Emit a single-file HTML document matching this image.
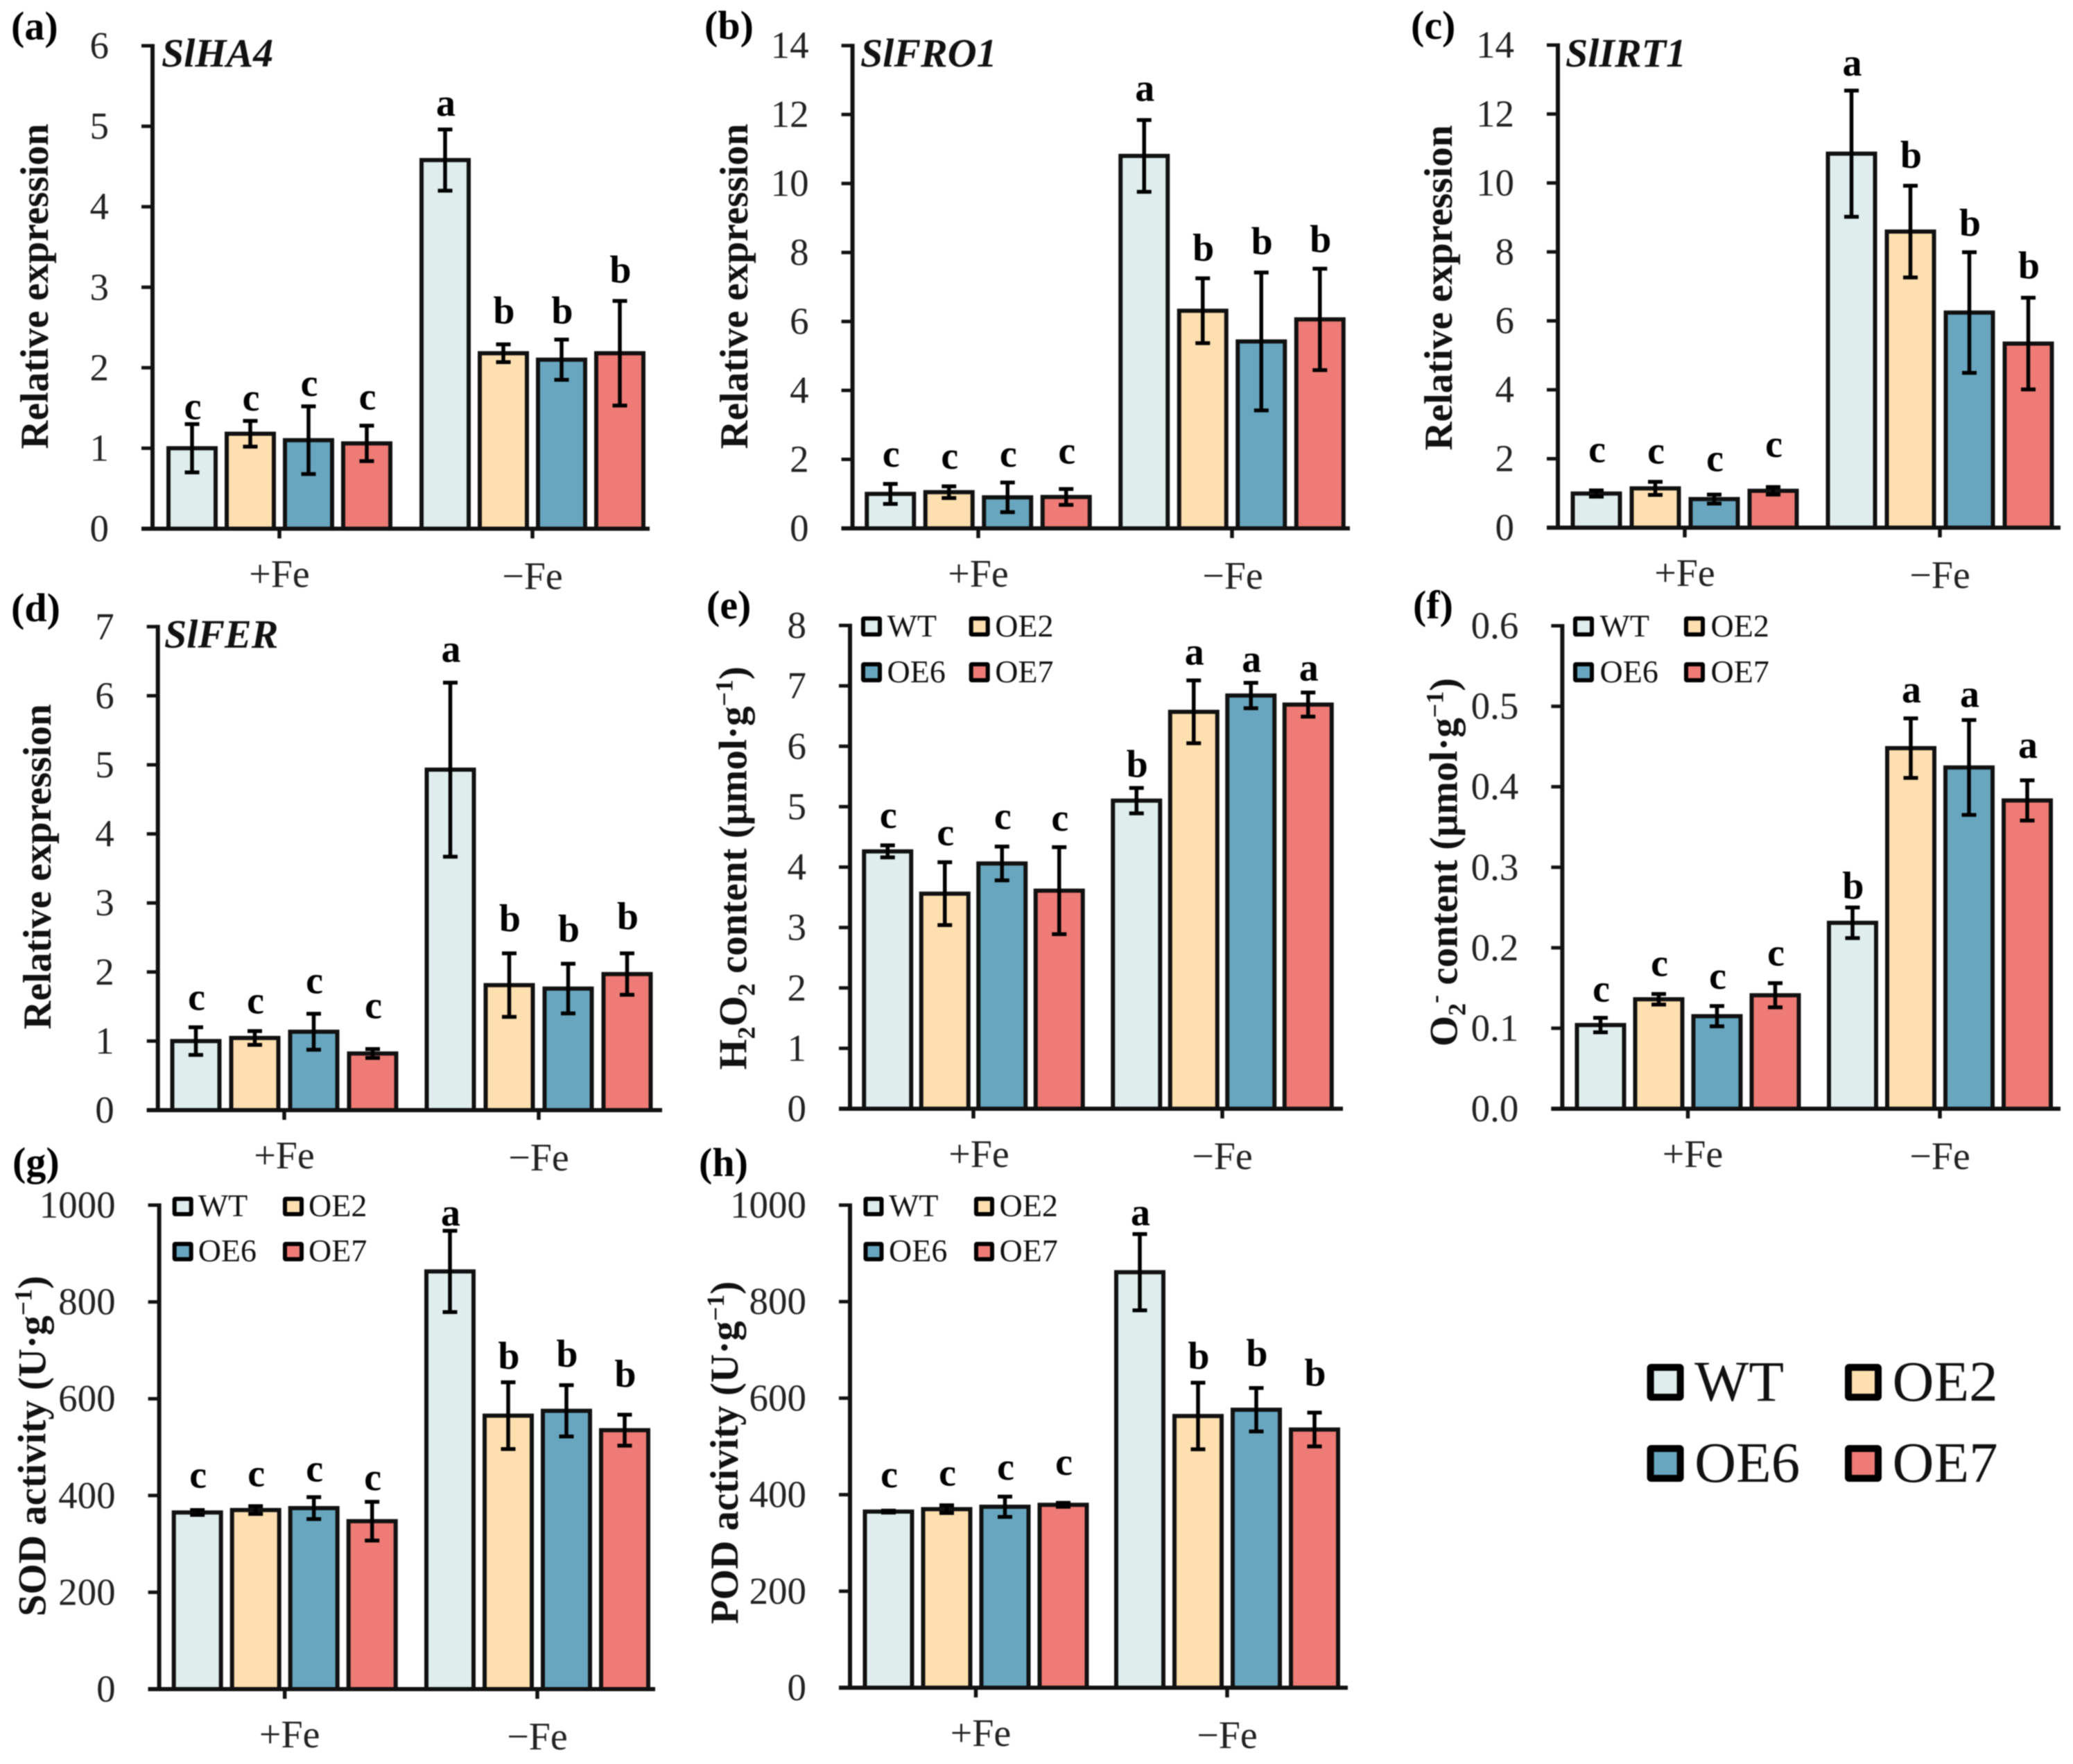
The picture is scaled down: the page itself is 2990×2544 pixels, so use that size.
<!DOCTYPE html>
<html lang="en">
<head>
<meta charset="utf-8">
<title>Relative expression and antioxidant panels</title>
<style>
html,body{margin:0;padding:0;background:#fff;}
svg{display:block;filter:blur(0.7px);}
text{font-family:"Liberation Serif","Times New Roman",serif;}
</style>
</head>
<body>
<svg id="figure" xmlns="http://www.w3.org/2000/svg" width="2990" height="2544" viewBox="0 0 2990 2544"></svg>
<script>
const categories = ['+Fe', '\u2212Fe'];
const seriesNames = ['WT', 'OE2', 'OE6', 'OE7'];
const seriesColors = ['#DFEEEC', '#FDDFB0', '#68A6BF', '#EF7B76'];

const ticksExpr6 = ['0', '1', '2', '3', '4', '5', '6'];
const ticksExpr7 = ['0', '1', '2', '3', '4', '5', '6', '7'];
const ticksExpr14 = ['0', '2', '4', '6', '8', '10', '12', '14'];
const ticksH2O2 = ['0', '1', '2', '3', '4', '5', '6', '7', '8'];
const ticksO2 = ['0.0', '0.1', '0.2', '0.3', '0.4', '0.5', '0.6'];
const ticksActivity = ['0', '200', '400', '600', '800', '1000'];

const ha4Values = [1.0, 1.18, 1.1, 1.06, 4.58, 2.18, 2.1, 2.18];
const ha4Errors = [0.3, 0.16, 0.42, 0.22, 0.38, 0.11, 0.25, 0.65];
const ha4Letters = ['c', 'c', 'c', 'c', 'a', 'b', 'b', 'b'];
const ha4LetterLevels = [1.36, 1.47, 1.65, 1.48, 5.13, 2.55, 2.55, 3.06];

const fro1Values = [1.0, 1.05, 0.9, 0.91, 10.8, 6.31, 5.42, 6.06];
const fro1Errors = [0.29, 0.17, 0.43, 0.23, 1.04, 0.94, 2.0, 1.47];
const fro1Letters = ['c', 'c', 'c', 'c', 'a', 'b', 'b', 'b'];
const fro1LetterLevels = [1.79, 1.73, 1.79, 1.88, 12.4, 7.76, 7.95, 8.01];

const irt1Values = [0.99, 1.14, 0.83, 1.07, 10.85, 8.59, 6.24, 5.34];
const irt1Errors = [0.09, 0.19, 0.13, 0.11, 1.83, 1.33, 1.75, 1.33];
const irt1Letters = ['c', 'c', 'c', 'c', 'a', 'b', 'b', 'b'];
const irt1LetterLevels = [1.9, 1.86, 1.64, 2.05, 13.11, 10.44, 8.47, 7.23];

const ferValues = [1.0, 1.045, 1.135, 0.82, 4.93, 1.81, 1.76, 1.97];
const ferErrors = [0.2, 0.1, 0.26, 0.065, 1.26, 0.46, 0.36, 0.3];
const ferLetters = ['c', 'c', 'c', 'c', 'a', 'b', 'b', 'b'];
const ferLetterLevels = [1.45, 1.4, 1.69, 1.33, 6.49, 2.59, 2.44, 2.62];

const h2o2Values = [4.26, 3.56, 4.06, 3.61, 5.1, 6.57, 6.84, 6.69];
const h2o2Errors = [0.1, 0.52, 0.28, 0.72, 0.21, 0.52, 0.21, 0.2];
const h2o2Letters = ['c', 'c', 'c', 'c', 'b', 'a', 'a', 'a'];
const h2o2LetterLevels = [4.65, 4.36, 4.63, 4.6, 5.49, 7.35, 7.23, 7.09];

const o2Values = [0.104, 0.136, 0.115, 0.141, 0.231, 0.448, 0.424, 0.383];
const o2Errors = [0.009, 0.0066, 0.0126, 0.015, 0.019, 0.037, 0.059, 0.025];
const o2Letters = ['c', 'c', 'c', 'c', 'b', 'a', 'a', 'a'];
const o2LetterLevels = [0.133, 0.165, 0.149, 0.178, 0.261, 0.505, 0.499, 0.436];

const sodValues = [365, 370, 374, 347, 863, 565, 575, 535];
const sodErrors = [5, 8, 22.6, 40, 84, 69, 53, 32];
const sodLetters = ['c', 'c', 'c', 'c', 'a', 'b', 'b', 'b'];
const sodLetterLevels = [416, 419, 429, 411, 958, 662, 666, 625];

const podValues = [365, 370, 375, 379, 861, 563, 576, 535];
const podErrors = [2, 8, 21, 4, 79, 69, 45, 35];
const podLetters = ['c', 'c', 'c', 'c', 'a', 'b', 'b', 'b'];
const podLetterLevels = [415, 419, 431, 441, 958, 661, 667, 626];

const SUB = (s) => `<tspan dy="12" font-size="36">${s}</tspan>`;
const UNIT_SUP = `<tspan dy="-20" font-size="36">\u22121</tspan><tspan dy="20">)</tspan>`;

const panels = [
  { key: 'a', tag: '(a)', tagX: 16, tagY: 57, axisX: 220, y0: 762.5, top: 66, right: 937, groups: [403, 768], pitch: 84,
    catShift: [0, 0], tickLabels: ticksExpr6, values: ha4Values, errors: ha4Errors, letters: ha4Letters, levels: ha4LetterLevels,
    gene: 'SlHA4', geneX: 233, geneY: 96,
    yTitle: 'Relative expression', yTitleX: 69, yTitleY: 413 },
  { key: 'b', tag: '(b)', tagX: 1016, tagY: 56, axisX: 1229.6, y0: 762, top: 65.7, right: 1947, groups: [1411, 1777], pitch: 84.5,
    catShift: [0, 1], tickLabels: ticksExpr14, values: fro1Values, errors: fro1Errors, letters: fro1Letters, levels: fro1LetterLevels,
    gene: 'SlFRO1', geneX: 1241, geneY: 96,
    yTitle: 'Relative expression', yTitleX: 1078, yTitleY: 413 },
  { key: 'c', tag: '(c)', tagX: 2035, tagY: 56, axisX: 2247, y0: 761, top: 65, right: 2972, groups: [2430, 2798], pitch: 85,
    catShift: [0, 0], tickLabels: ticksExpr14, values: irt1Values, errors: irt1Errors, letters: irt1Letters, levels: irt1LetterLevels,
    gene: 'SlIRT1', geneX: 2258, geneY: 96,
    yTitle: 'Relative expression', yTitleX: 2094, yTitleY: 415 },
  { key: 'd', tag: '(d)', tagX: 16, tagY: 896, axisX: 227.7, y0: 1601, top: 903.8, right: 955, groups: [410, 777], pitch: 85,
    catShift: [0, 0], tickLabels: ticksExpr7, values: ferValues, errors: ferErrors, letters: ferLetters, levels: ferLetterLevels,
    gene: 'SlFER', geneX: 237, geneY: 934,
    yTitle: 'Relative expression', yTitleX: 73, yTitleY: 1250 },
  { key: 'e', tag: '(e)', tagX: 1019, tagY: 892, axisX: 1226, y0: 1599, top: 902, right: 1937, groups: [1404, 1763], pitch: 82.5,
    catShift: [8, 0], tickLabels: ticksH2O2, values: h2o2Values, errors: h2o2Errors, letters: h2o2Letters, levels: h2o2LetterLevels,
    yTitle: `H${SUB('2')}<tspan dy="-12">O</tspan>${SUB('2')}<tspan dy="-12"> content (\u03bcmol\u00b7g</tspan>${UNIT_SUP}`, yTitleX: 1076.5, yTitleY: 1252,
    legend: { x1: 1242, x2: 1397.7, y1: 889, y2: 955, w: 30, h: 29, gap: 7.5, font: 46, stroke: 6 } },
  { key: 'f', tag: '(f)', tagX: 2038, tagY: 892, axisX: 2253.4, y0: 1599, top: 902.5, right: 2972, groups: [2434.5, 2798], pitch: 84,
    catShift: [7, 0], tickLabels: ticksO2, values: o2Values, errors: o2Errors, letters: o2Letters, levels: o2LetterLevels,
    yTitle: `O${SUB('2')}<tspan dy="-32" font-size="36">-</tspan><tspan dy="20"> content (\u03bcmol\u00b7g</tspan>${UNIT_SUP}`, yTitleX: 2101.6, yTitleY: 1243.5,
    legend: { x1: 2269, x2: 2429, y1: 889, y2: 955, w: 30, h: 29, gap: 8.5, font: 46, stroke: 6 } },
  { key: 'g', tag: '(g)', tagX: 18, tagY: 1695, axisX: 229.6, y0: 2436, top: 1738, right: 945, groups: [410.7, 775], pitch: 84,
    catShift: [7, 0], tickLabels: ticksActivity, values: sodValues, errors: sodErrors, letters: sodLetters, levels: sodLetterLevels,
    yTitle: `SOD activity (U\u00b7g${UNIT_SUP}`, yTitleX: 65.7, yTitleY: 2085.5,
    legend: { x1: 248.7, x2: 408, y1: 1726, y2: 1791, w: 30, h: 28, gap: 7, font: 46, stroke: 6 } },
  { key: 'h', tag: '(h)', tagX: 1008, tagY: 1696, axisX: 1226, y0: 2434, top: 1738, right: 1944, groups: [1407.5, 1770], pitch: 84,
    catShift: [7, 0], tickLabels: ticksActivity, values: podValues, errors: podErrors, letters: podLetters, levels: podLetterLevels,
    yTitle: `POD activity (U\u00b7g${UNIT_SUP}`, yTitleX: 1064, yTitleY: 2095,
    legend: { x1: 1245.5, x2: 1405, y1: 1726, y2: 1791, w: 29, h: 28, gap: 7.5, font: 46, stroke: 6 } }
];

const figure = document.getElementById('figure');
const NS = 'http://www.w3.org/2000/svg';

function make(parent, tag, attrs) {
  const node = document.createElementNS(NS, tag);
  for (const k in attrs) node.setAttribute(k, attrs[k]);
  parent.appendChild(node);
  return node;
}

function drawLegend(parent, cfg, prefix) {
  const slots = [[cfg.x1, cfg.y1], [cfg.x2, cfg.y1], [cfg.x1, cfg.y2], [cfg.x2, cfg.y2]];
  seriesNames.forEach((name, i) => {
    const [sx, sy] = slots[i];
    const swatch = make(parent, 'rect', {
      x: sx + cfg.stroke / 2, y: sy + cfg.stroke / 2, width: cfg.w - cfg.stroke, height: cfg.h - cfg.stroke, rx: 1,
      fill: seriesColors[i], stroke: '#000', 'stroke-width': cfg.stroke
    });
    
    
    const label = make(parent, 'text', { x: sx + cfg.w + cfg.gap, y: sy + cfg.h, 'font-size': cfg.font, fill: '#111' });
    label.textContent = name;
    
    
  });
}

panels.forEach((p) => {
  const g = make(figure, 'g', {});
  
  

  const yMax = parseFloat(p.tickLabels[p.tickLabels.length - 1]);
  const yScale = (v) => p.y0 - (v / yMax) * (p.y0 - p.top);
  const xScale = (group, s) => p.groups[group] + (s - 1.5) * p.pitch;
  const BAR_W = 74, BAR_S = 6, CAP = 10.5;

  const tagText = make(g, 'text', { x: p.tagX, y: p.tagY, 'font-size': 58, 'font-weight': 'bold', fill: '#000' });
  tagText.textContent = p.tag;
  
  

  p.values.forEach((v, idx) => {
    const group = Math.floor(idx / 4), s = idx % 4;
    const cx = xScale(group, s);
    const bar = make(g, 'rect', {
      x: cx - BAR_W / 2 + BAR_S / 2, y: yScale(v), width: BAR_W - BAR_S, height: p.y0 - yScale(v),
      fill: seriesColors[s], stroke: '#111', 'stroke-width': BAR_S
    });
    
    
  });

  p.values.forEach((v, idx) => {
    const group = Math.floor(idx / 4), s = idx % 4;
    const cx = xScale(group, s);
    const hi = yScale(v + p.errors[idx]), lo = yScale(v - p.errors[idx]);
    const err = make(g, 'path', {
      d: `M${cx} ${hi}V${lo}M${cx - CAP} ${hi}H${cx + CAP}M${cx - CAP} ${lo}H${cx + CAP}`,
      fill: 'none', stroke: '#000', 'stroke-width': 5.5
    });
    
    
    const sig = make(g, 'text', {
      x: cx + 1, y: yScale(p.levels[idx]), 'font-size': 56, 'font-weight': 'bold', 'text-anchor': 'middle', fill: '#000'
    });
    sig.textContent = p.letters[idx];
    
    
  });

  const yAxis = make(g, 'line', { x1: p.axisX, y1: p.top - 2.5, x2: p.axisX, y2: p.y0, stroke: '#111', 'stroke-width': 6 });
  
  
  const xAxis = make(g, 'line', { x1: p.axisX - 16, y1: p.y0, x2: p.right, y2: p.y0, stroke: '#111', 'stroke-width': 6 });
  
  

  p.tickLabels.forEach((lab) => {
    const ty = yScale(parseFloat(lab));
    const tick = make(g, 'line', { x1: p.axisX - 16, y1: ty, x2: p.axisX, y2: ty, stroke: '#111', 'stroke-width': 5 });
    
    
    const tl = make(g, 'text', { x: p.axisX - 63, y: ty + 18, 'font-size': 55, 'text-anchor': 'end', fill: '#222' });
    tl.textContent = lab;
    
    
  });

  categories.forEach((cat, i) => {
    const tick = make(g, 'line', { x1: p.groups[i], y1: p.y0, x2: p.groups[i], y2: p.y0 + 14, stroke: '#111', 'stroke-width': 5.5 });
    
    
    const cl = make(g, 'text', {
      x: p.groups[i] + p.catShift[i], y: p.y0 + (i ? 87 : 84), 'font-size': 56, 'text-anchor': 'middle', fill: '#222'
    });
    cl.textContent = cat;
    
    
  });

  const yt = make(g, 'text', {
    transform: `translate(${p.yTitleX} ${p.yTitleY}) rotate(-90)`,
    'font-size': 57, 'font-weight': 'bold', 'text-anchor': 'middle', fill: '#111'
  });
  yt.innerHTML = p.yTitle;
  
  

  if (p.gene) {
    const gt = make(g, 'text', {
      x: p.geneX, y: p.geneY, 'font-size': 58, 'font-weight': 'bold', 'font-style': 'italic', fill: '#111'
    });
    gt.textContent = p.gene;
    
    
  }

  if (p.legend) {
    const lg = make(g, 'g', {});
    
    
    drawLegend(lg, p.legend, 'legend-' + p.key);
  }
});

const shared = make(figure, 'g', {});


drawLegend(shared, { x1: 2375.6, x2: 2661, y1: 1967, y2: 2084, w: 53, h: 53, gap: 15.5, font: 83, stroke: 10 }, 'shared-legend');
</script>
</body>
</html>
